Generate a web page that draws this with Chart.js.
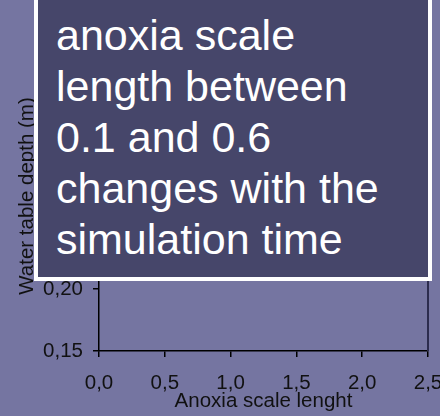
<!DOCTYPE html>
<html>
<head>
<meta charset="utf-8">
<script src="https://cdn.jsdelivr.net/npm/chart.js@4/dist/chart.umd.min.js"></script>
<style>
  html, body { margin: 0; padding: 0; background: rgb(117,117,161); overflow: hidden; }
  #wrap { position: relative; width: 440px; height: 416px; }
  #chart { position: absolute; left: 0; top: 0; }
  #note {
    position: absolute; left: 34px; top: -10px; width: 398px; height: 291px;
    box-sizing: border-box; border: 4px solid #ffffff; background: rgb(70,70,106);
    color: #ffffff; font-family: "Liberation Sans", Arial, sans-serif;
    font-size: 43px; line-height: 51px; padding: 16px 0 0 18px; white-space: nowrap;
  }
</style>
</head>
<body>
<div id="wrap">
  <canvas id="chart" width="440" height="416"></canvas>
  <div id="note"></div>
</div>
<script>
// Axis ranges and tick positions
const xTickValues = [0.0, 0.5, 1.0, 1.5, 2.0, 2.5];
const yTickValues = [0.15, 0.20, 0.25, 0.30, 0.35, 0.40];
// Series: anoxia scale length vs water table depth
const anoxiaLength = [];
const waterDepth = [];
// Annotation text
const noteLines = ["anoxia scale", "length between", "0.1 and 0.6", "changes with the", "simulation time"];

const note = document.getElementById('note');
noteLines.forEach((line, i) => {
  if (i) note.appendChild(document.createElement('br'));
  note.appendChild(document.createTextNode(line));
});

const fmt = (v, d) => v.toFixed(d).replace('.', ',');
const font = { family: '"Liberation Sans", Arial, sans-serif', size: 20.5 };

// Right-hand frame line of the plot area
const rightFrame = {
  id: 'rightFrame',
  afterDraw(chart) {
    const { ctx, chartArea } = chart;
    ctx.save();
    ctx.strokeStyle = 'rgb(44,44,78)';
    ctx.lineWidth = 2;
    ctx.beginPath();
    ctx.moveTo(chartArea.right, chartArea.top);
    ctx.lineTo(chartArea.right, chartArea.bottom);
    ctx.stroke();
    ctx.restore();
  }
};

new Chart(document.getElementById('chart'), {
  type: 'scatter',
  data: {
    datasets: [{
      label: 'Water table depth',
      data: anoxiaLength.map((x, i) => ({ x, y: waterDepth[i] })),
      borderColor: '#000', backgroundColor: '#000'
    }]
  },
  plugins: [rightFrame],
  options: {
    responsive: false,
    animation: false,
    layout: { padding: { left: 0, right: 0, top: 41, bottom: 0 } },
    plugins: { legend: { display: false }, tooltip: { enabled: false } },
    scales: {
      x: {
        type: 'linear', min: 0, max: 2.5,
        afterBuildTicks: s => { s.ticks = xTickValues.map(v => ({ value: v })); },
        afterFit: s => { s.height = 65; s.paddingRight = 12; s.paddingLeft = 0; },
        border: { color: '#000', width: 1.5 },
        grid: { drawOnChartArea: false, drawTicks: true, tickLength: 6, tickColor: '#000', lineWidth: 1.5 },
        ticks: { color: '#111', font, padding: 14, maxRotation: 0, callback: v => fmt(v, 1) },
        title: { display: true, text: 'Anoxia scale lenght', color: '#111',
                 font: { family: font.family, size: 20.5 }, padding: { top: 0, bottom: 2 } }
      },
      y: {
        type: 'linear', min: 0.15, max: 0.40,
        afterBuildTicks: s => { s.ticks = yTickValues.map(v => ({ value: v })); },
        afterFit: s => { s.width = 99; },
        border: { color: '#000', width: 1.5 },
        grid: { drawOnChartArea: false, drawTicks: true, tickLength: 6, tickColor: '#000', lineWidth: 1.5 },
        ticks: { color: '#111', font, padding: 10, callback: v => fmt(v, 2) },
        title: { display: true, text: 'Water table depth (m)', color: '#111',
                 font: { family: font.family, size: 20.5 }, padding: { top: 15, bottom: 0 } }
      }
    }
  }
});
</script>
</body>
</html>
